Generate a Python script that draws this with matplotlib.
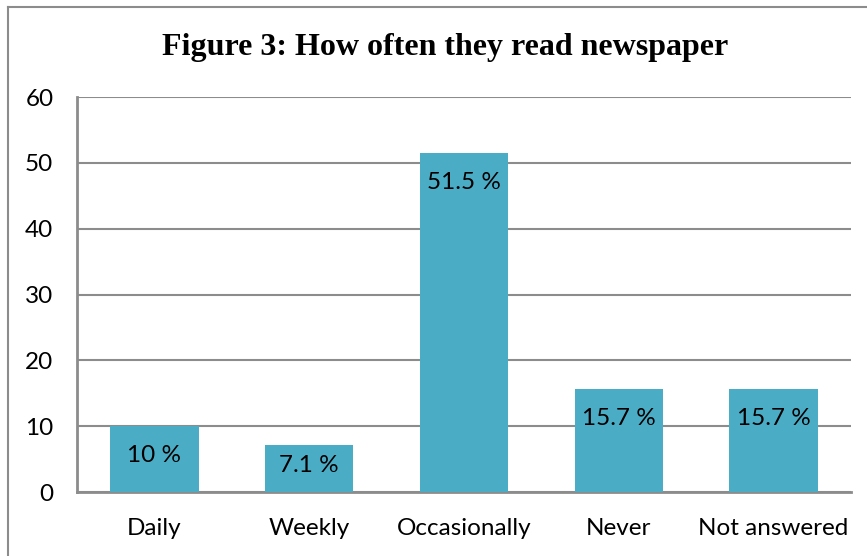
import matplotlib
matplotlib.use("Agg")
import matplotlib.pyplot as plt
from matplotlib.lines import Line2D

categories = ["Daily", "Weekly", "Occasionally", "Never", "Not answered"]
percentages = [10, 7.1, 51.5, 15.7, 15.7]
value_labels = ["10 %", "7.1 %", "51.5 %", "15.7 %", "15.7 %"]
y_ticks = [0, 10, 20, 30, 40, 50, 60]

BAR_COLOR = "#4BACC6"
LINE_COLOR = "#8c8c8c"

plt.rcParams["font.family"] = ["Lato", "DejaVu Sans"]

fig = plt.figure(figsize=(8.67, 5.56), dpi=100)
ax = fig.add_axes([0.0888, 0.1151, 0.8927, 0.7104])

x = range(len(categories))
ax.bar(x, percentages, width=0.57, color=BAR_COLOR, zorder=3)

for xi, val, lab in zip(x, percentages, value_labels):
    ypos = max(val - 4.5, val / 2 + 0.5)
    ax.text(xi, ypos, lab, ha="center", va="center", fontsize=17.5, color="black", zorder=4)

ax.set_xlim(-0.5, len(categories) - 0.5)
ax.set_ylim(0, 60)
ax.set_yticks(y_ticks)
ax.set_xticks(list(x))
ax.set_xticklabels(categories)
ax.yaxis.grid(True, color=LINE_COLOR, linewidth=1.5, zorder=0)
ax.set_axisbelow(True)
ax.tick_params(axis="both", length=0, labelsize=17.5)
ax.tick_params(axis="y", pad=17)
ax.tick_params(axis="x", pad=19)

for side in ("top", "right"):
    ax.spines[side].set_visible(False)
for side in ("left", "bottom"):
    ax.spines[side].set_color(LINE_COLOR)
    ax.spines[side].set_linewidth(2)

fig.text(445 / 867, 1 - 48 / 556, "Figure 3: How often they read newspaper",
         ha="center", va="center", fontsize=23, fontweight="bold",
         family=["Liberation Serif", "DejaVu Serif"])

# chart frame, left and top edges
fig.add_artist(Line2D([7.5 / 867, 7.5 / 867], [0, 1 - 6.5 / 556],
                      transform=fig.transFigure, color=LINE_COLOR, linewidth=1.5))
fig.add_artist(Line2D([7.5 / 867, 1], [1 - 6.5 / 556, 1 - 6.5 / 556],
                      transform=fig.transFigure, color=LINE_COLOR, linewidth=1.5))

fig.savefig("out.png", dpi=100)
